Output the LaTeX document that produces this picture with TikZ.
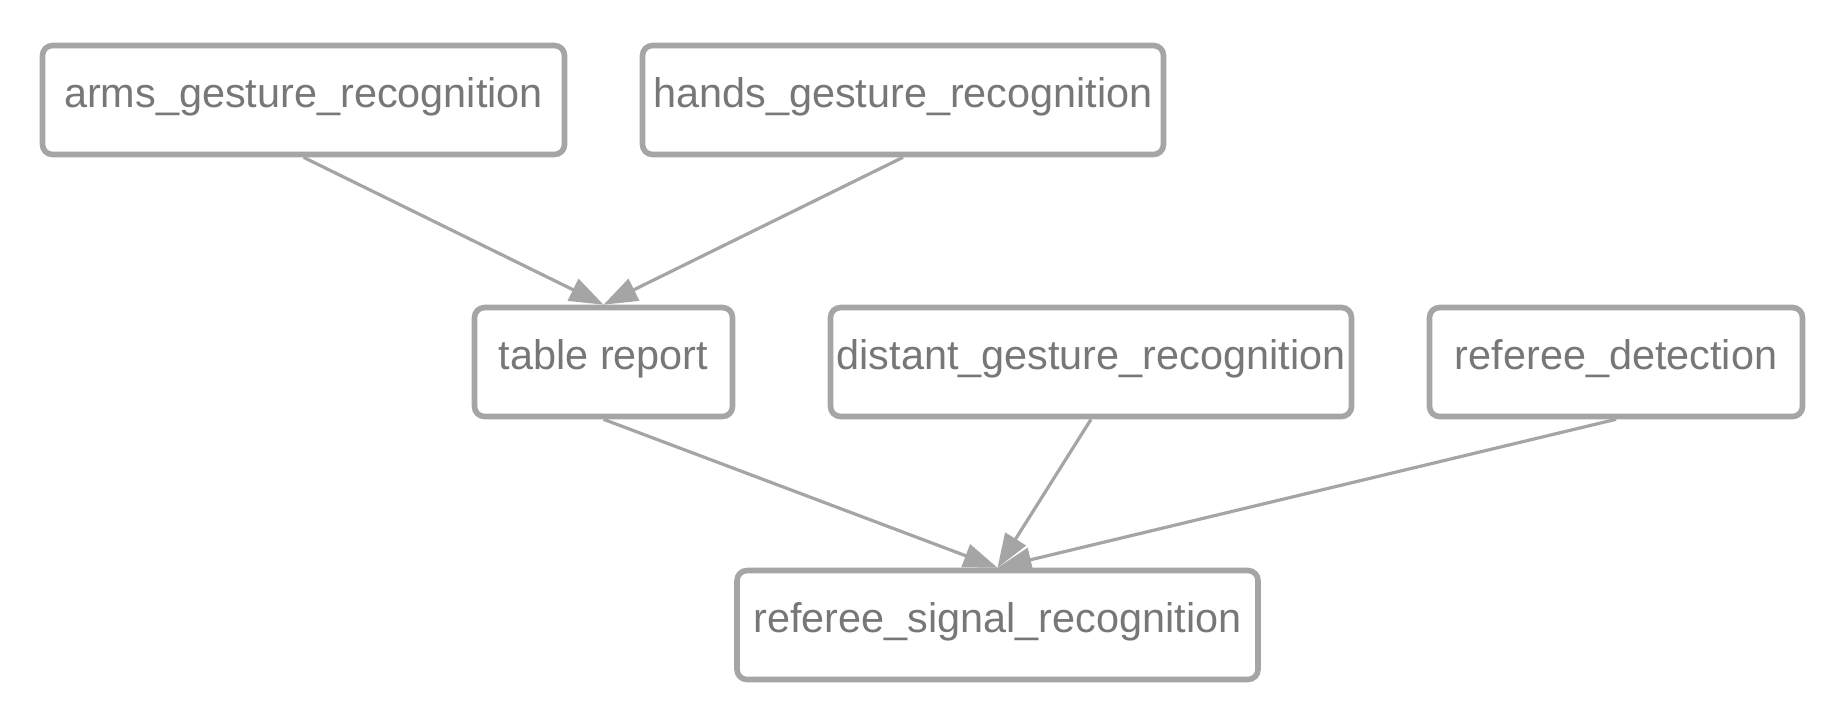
\documentclass[tikz,border=0pt]{standalone}
\usepackage{fontspec}
\setmainfont{Liberation Sans}
\usepackage{tikz}
\usetikzlibrary{positioning,arrows.meta}
\definecolor{edgegray}{HTML}{A5A5A5}
\definecolor{textgray}{HTML}{777777}
\tikzset{
  >={Triangle[length=17pt,width=12pt]},
  modulebox/.style={draw=edgegray, line width=2.8pt, rounded corners=5pt,
    fill=white, text=textgray, font=\fontsize{20.7pt}{24pt}\selectfont,
    minimum height=54.5pt, inner sep=0pt, text depth=7.5pt},
  flow/.style={->, color=edgegray, line width=1.6pt}
}

\begin{document}
\begin{tikzpicture}[x=0.5pt, y=-0.5pt]
    \useasboundingbox (0,0) rectangle (1845,724);

    \node[modulebox, minimum width=261pt]   (arms)  at (303.5,100) {arms\_gesture\_recognition};
    \node[modulebox, minimum width=260.5pt] (hands) at (903,100)   {hands\_gesture\_recognition};
    \node[modulebox, minimum width=129pt]   (table) at (603.5,362) {table report};
    \node[modulebox, minimum width=260.5pt] (distant) at (1091,362) {distant\_gesture\_recognition};
    \node[modulebox, minimum width=186.5pt] (referee) at (1616,362) {referee\_detection};
    \node[modulebox, minimum width=260.5pt] (signal) at (997.5,625) {referee\_signal\_recognition};

    \path
      (arms.south)    edge[flow] (table.north)
      (hands.south)   edge[flow] (table.north)
      (table.south)   edge[flow] (signal.north)
      (distant.south) edge[flow] (signal.north)
      (referee.south) edge[flow] (signal.north);
  \end{tikzpicture}
\end{document}
